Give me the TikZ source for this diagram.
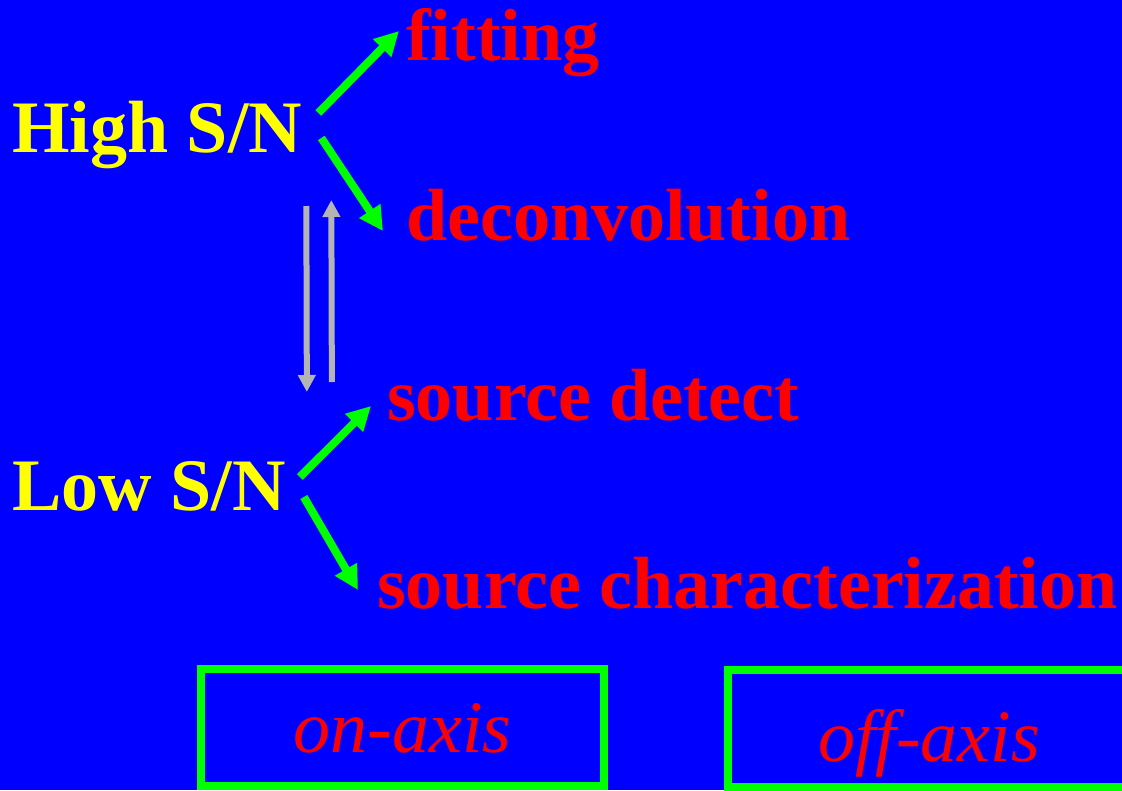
\documentclass[tikz,border=0pt]{standalone}
\usepackage{fontspec}
\setmainfont{Liberation Serif}
\usetikzlibrary{arrows.meta, positioning}
\definecolor{slideblue}{RGB}{0,0,255}
\definecolor{snyellow}{RGB}{255,255,0}
\definecolor{taskred}{RGB}{255,0,0}
\definecolor{linkgreen}{RGB}{0,255,0}
\definecolor{swapgray}{RGB}{180,180,180}

\begin{document}
\begin{tikzpicture}[
    x=1pt, y=-1pt,
    every node/.style={inner sep=0pt, anchor=base west},
    big/.style={font=\fontsize{74}{80}\selectfont\bfseries},
    sn/.style={big, text=snyellow},
    task/.style={big, text=taskred},
    axisbox/.style={draw=linkgreen, line width=8pt, anchor=center, font=\fontsize{74}{80}\selectfont\itshape, text=taskred, minimum width=403pt, minimum height=117pt, text depth=0pt},
    garrow/.style={-{Triangle[length=24pt,width=24pt]}, line width=8pt, draw=linkgreen},
    swaparrow/.style={-{Triangle[length=17pt,width=17pt]}, line width=6pt, draw=swapgray}
  ]
    \path[use as bounding box, fill=slideblue] (0,0) rectangle (1122,790);
    \clip (0,0) rectangle (1122,790);

    % signal to noise regimes
    \node[sn] (high) at (12,152) {High S/N};
    \node[sn] (low) at (12,510) {Low S/N};

    % what can be done
    \node[task] (fit) at (406,60) {fitting};
    \node[task] (deconv) at (406,240) {deconvolution};
    \node[task] (srcdet) at (387,420) {source detect};
    \node[task] (srcchar) at (377,608) {source characterization};

    \draw[garrow] ([shift={(16,-39)}]high.base east) -- ([shift={(-7,-29)}]fit.base west);
    \draw[garrow] ([shift={(19,-14)}]high.base east) -- ([shift={(-23,-9)}]deconv.base west);
    \draw[garrow] ([shift={(14,-33)}]low.base east) -- ([shift={(-16,-14)}]srcdet.base west);
    \draw[garrow] ([shift={(18,-13)}]low.base east) -- ([shift={(-19,-18)}]srcchar.base west);

    \draw[swaparrow] ([shift={(4,54)}]high.base east) -- ([shift={(21,-118)}]low.base east);
    \draw[swaparrow] ([shift={(46,-128)}]low.base east) -- ([shift={(29,48)}]high.base east);

    % the two cases
    \node[axisbox, text height=49pt] (onaxis) at (402.5,727.5) {on-axis};
    \node[axisbox, text height=66pt] (offaxis) at (929,728) {off-axis};
  \end{tikzpicture}
\end{document}
